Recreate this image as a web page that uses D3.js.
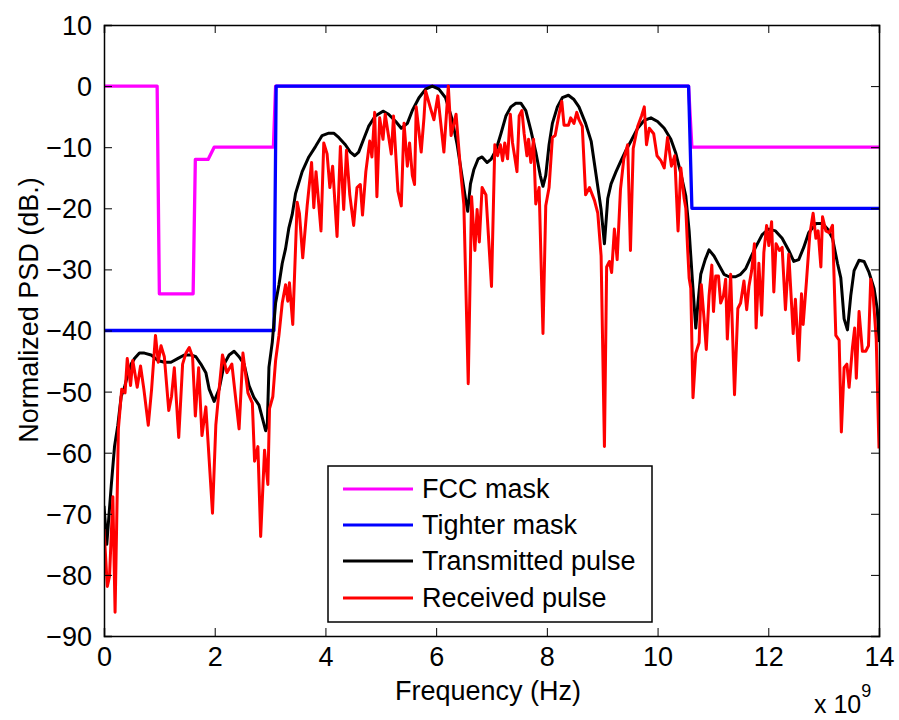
<!DOCTYPE html>
<html><head><meta charset="utf-8">
<script src="https://cdn.jsdelivr.net/npm/d3@7/dist/d3.min.js"></script>
<style>body{margin:0;background:#fff;} svg{display:block;} text{font-family:"Liberation Sans",Arial,Helvetica,sans-serif;fill:#000;}</style>
</head><body>
<svg id="chart" width="899" height="720"></svg>
<script>
// ---- data (frequency in units of 1e9 Hz, PSD in dB) ----
const xTicks = [0, 2, 4, 6, 8, 10, 12, 14];
const yTicks = [10, 0, -10, -20, -30, -40, -50, -60, -70, -80, -90];
const seriesNames = ["FCC mask", "Tighter mask", "Transmitted pulse", "Received pulse"];
const seriesColors = ["#ff00ff", "#0000ff", "#000000", "#ff0000"];

const fccMask = [[0,0],[0.96,0],[1.0,-34],[1.61,-34],[1.65,-12],[1.88,-12],[1.99,-10],[3.06,-10],[3.1,0],[10.56,0],[10.62,-10],[14,-10]];
const tighterMask = [[0,-40],[3.07,-40],[3.11,0],[10.56,0],[10.62,-20],[14,-20]];

const transmitted = [[0,-68.7],[0.05,-75],[0.13,-65.5],[0.19,-59],[0.25,-55.5],[0.31,-50.8],[0.37,-49.3],[0.43,-47.2],[0.49,-45.5],[0.55,-44.6],[0.64,-43.7],[0.73,-43.7],[0.85,-44],[0.97,-44.9],[1.09,-45.2],[1.21,-45.2],[1.33,-44.6],[1.45,-44],[1.57,-44],[1.66,-44.3],[1.75,-45.5],[1.84,-46.9],[1.90,-49.6],[1.99,-51.6],[2.08,-49.6],[2.17,-45.5],[2.26,-44],[2.35,-43.4],[2.44,-44.3],[2.53,-45.5],[2.62,-49],[2.71,-51],[2.80,-52.2],[2.86,-54.3],[2.92,-56.4],[2.95,-55.5],[2.98,-46],[3.04,-41.9],[3.10,-35.5],[3.16,-32.5],[3.22,-29],[3.28,-26.6],[3.34,-23.2],[3.40,-21],[3.46,-17.6],[3.58,-14],[3.70,-11.6],[3.82,-9.9],[3.94,-8.1],[4.06,-7.7],[4.15,-7.7],[4.24,-8.4],[4.36,-9.6],[4.45,-10.8],[4.53,-11.4],[4.60,-10.8],[4.69,-8.7],[4.78,-6.6],[4.90,-4.9],[5.04,-4.1],[5.14,-4.6],[5.27,-5.8],[5.37,-6.9],[5.48,-6.1],[5.57,-4],[5.69,-1.9],[5.81,-0.5],[5.93,0],[6.05,-0.5],[6.17,-1.9],[6.29,-5.5],[6.38,-9.6],[6.47,-14.9],[6.53,-18.4],[6.57,-20.5],[6.62,-16],[6.68,-13.7],[6.76,-11.9],[6.83,-11.6],[6.92,-12.5],[6.99,-12],[7.08,-10.5],[7.17,-7.8],[7.26,-4.9],[7.35,-3.4],[7.44,-2.8],[7.53,-2.8],[7.62,-4],[7.71,-7.2],[7.80,-10.8],[7.88,-14.6],[7.93,-16.4],[7.98,-14.6],[8.04,-9.6],[8.10,-6.1],[8.19,-3.4],[8.28,-1.9],[8.39,-1.5],[8.49,-2.2],[8.58,-3.4],[8.70,-6.1],[8.80,-9],[8.89,-14.6],[8.98,-20.2],[9.04,-25.8],[9.10,-18.4],[9.16,-16],[9.25,-14],[9.34,-12.2],[9.43,-10.5],[9.52,-9],[9.64,-6.9],[9.76,-5.6],[9.88,-5.2],[10.0,-5.8],[10.12,-6.9],[10.24,-8.7],[10.33,-11],[10.42,-14.3],[10.51,-18],[10.57,-23.7],[10.63,-31.9],[10.69,-39.6],[10.73,-35.5],[10.78,-30.8],[10.86,-28.4],[10.93,-26.8],[11.02,-27.8],[11.11,-29.3],[11.20,-30.8],[11.29,-31.2],[11.41,-31.2],[11.50,-30.8],[11.59,-29.9],[11.68,-28.1],[11.77,-26.4],[11.89,-24.3],[12.01,-23.4],[12.13,-23.7],[12.25,-24.9],[12.37,-26.9],[12.46,-28.7],[12.55,-28.4],[12.64,-26.4],[12.73,-24],[12.86,-22.5],[12.98,-22.5],[13.07,-23.4],[13.16,-24.9],[13.25,-29],[13.31,-31.4],[13.37,-38.1],[13.43,-39.9],[13.49,-34.3],[13.55,-30.2],[13.64,-28.5],[13.73,-28.7],[13.82,-30.5],[13.91,-33.1],[13.97,-36.6],[14.0,-41.9]];

const received = [[0,-72.5],[0.06,-81.9],[0.10,-80.2],[0.16,-67.2],[0.20,-86.1],[0.26,-56.1],[0.32,-49.6],[0.38,-50.2],[0.42,-44.6],[0.48,-49],[0.52,-44.9],[0.60,-49.3],[0.66,-45.8],[0.72,-49.6],[0.80,-55.5],[0.86,-49.6],[0.93,-40.8],[0.98,-45.2],[1.03,-42.5],[1.09,-44.3],[1.17,-53.1],[1.22,-50.8],[1.27,-46.1],[1.35,-57.5],[1.42,-45.5],[1.48,-43.7],[1.54,-42.8],[1.60,-44.3],[1.65,-54],[1.71,-46.1],[1.77,-57.2],[1.84,-52.5],[1.96,-69.9],[2.02,-55.5],[2.08,-49.6],[2.14,-44],[2.22,-46.9],[2.31,-45.5],[2.36,-49.6],[2.44,-56.1],[2.51,-43.7],[2.60,-50.2],[2.68,-51.9],[2.72,-61.4],[2.78,-59],[2.83,-73.7],[2.90,-59.6],[2.96,-65.2],[2.99,-52.8],[3.05,-50.8],[3.10,-44.9],[3.16,-40.8],[3.22,-35.5],[3.28,-32.5],[3.32,-35.2],[3.35,-32.2],[3.41,-39],[3.49,-19],[3.53,-20.8],[3.59,-28.1],[3.67,-19.6],[3.75,-12.5],[3.79,-19.9],[3.83,-14],[3.92,-23.7],[3.97,-9.3],[4.03,-11.1],[4.08,-16.6],[4.13,-13.1],[4.21,-24.6],[4.27,-9.9],[4.33,-20.2],[4.38,-10.5],[4.44,-17.8],[4.51,-22.8],[4.57,-16.6],[4.63,-16.1],[4.67,-21.1],[4.73,-14],[4.80,-9],[4.84,-11.6],[4.89,-4.3],[4.93,-18.1],[4.98,-5.2],[5.04,-8.7],[5.08,-4.6],[5.19,-11.1],[5.23,-4.9],[5.31,-17.2],[5.37,-19.6],[5.42,-6.1],[5.48,-13.1],[5.52,-9.3],[5.57,-14.6],[5.61,-16.1],[5.64,-3.4],[5.73,-10.8],[5.78,-5.2],[5.81,-0.8],[5.90,-3.7],[5.96,-5.5],[6.03,-1.6],[6.14,-10.8],[6.22,0],[6.27,-8.1],[6.36,-4.6],[6.44,-13.7],[6.50,-19.3],[6.58,-48.7],[6.64,-18.1],[6.70,-26.9],[6.74,-20.2],[6.78,-25.5],[6.83,-16.6],[6.90,-17.8],[7.00,-32.8],[7.06,-9.6],[7.11,-11.4],[7.16,-9.6],[7.20,-12.2],[7.24,-9.3],[7.29,-11.9],[7.34,-4.6],[7.38,-9.3],[7.42,-11.6],[7.46,-14],[7.50,-4.9],[7.55,-4],[7.59,-7.8],[7.64,-11.4],[7.67,-8.7],[7.71,-12.5],[7.76,-8.7],[7.80,-19.3],[7.86,-16.6],[7.93,-40.5],[7.98,-19.6],[8.04,-16.6],[8.10,-8.4],[8.15,-8.1],[8.22,-4.6],[8.27,-2.5],[8.31,-6.4],[8.39,-6.4],[8.43,-5.2],[8.49,-6.1],[8.54,-4.3],[8.58,-5.5],[8.64,-6.6],[8.70,-17.8],[8.77,-16.6],[8.86,-18.7],[8.92,-20.8],[8.98,-27.8],[9.04,-59],[9.08,-29.6],[9.13,-28.7],[9.17,-30.5],[9.22,-23.4],[9.27,-28.4],[9.33,-16.9],[9.39,-11.9],[9.46,-9.6],[9.51,-26.9],[9.56,-10.2],[9.64,-6.6],[9.71,-4.9],[9.76,-3.4],[9.80,-9.6],[9.85,-6.9],[9.93,-7.8],[9.99,-11.4],[10.06,-12.2],[10.12,-13.4],[10.18,-8.4],[10.25,-13.1],[10.31,-11.4],[10.37,-23.7],[10.42,-13.4],[10.48,-18.4],[10.51,-20],[10.54,-26.1],[10.57,-31.4],[10.60,-33.1],[10.64,-51],[10.69,-43.7],[10.75,-42],[10.79,-32.5],[10.84,-38.1],[10.88,-43.1],[10.93,-34.3],[10.98,-29.3],[11.01,-36.9],[11.05,-31.1],[11.10,-31.1],[11.14,-35.5],[11.19,-34.3],[11.23,-31.6],[11.26,-41.4],[11.32,-30.8],[11.39,-50.5],[11.45,-36.4],[11.50,-35.5],[11.56,-31.9],[11.61,-36.6],[11.65,-32.8],[11.70,-30.2],[11.75,-25.8],[11.78,-39.6],[11.83,-29],[11.88,-37.5],[11.92,-27.2],[11.97,-22.8],[12.01,-26.1],[12.06,-22.2],[12.10,-33.7],[12.14,-25.8],[12.20,-26.9],[12.25,-26.4],[12.31,-36.6],[12.37,-27.5],[12.45,-40.5],[12.49,-34.9],[12.55,-44.9],[12.60,-34],[12.63,-39],[12.69,-31.9],[12.75,-24.3],[12.81,-20.8],[12.86,-24.9],[12.90,-23.7],[12.95,-29.6],[12.98,-21.4],[13.04,-23.7],[13.10,-24],[13.16,-22.8],[13.22,-40.8],[13.28,-41.6],[13.32,-56.6],[13.37,-46.1],[13.42,-45.5],[13.46,-49.3],[13.52,-42.8],[13.56,-39.6],[13.59,-47.8],[13.64,-36.9],[13.70,-43.4],[13.76,-43.4],[13.81,-42.5],[13.85,-31.6],[13.89,-33.7],[13.95,-41.4],[14.0,-59.3]];

// ---- layout ----
const svg = d3.select("#chart");
const L = 104, R = 879, T = 25, B = 636;
const x = d3.scaleLinear().domain([0, 14]).range([L, R]);
const y = d3.scaleLinear().domain([-90, 10]).range([B, T]);

const g = svg.append("g");
svg.append("defs").append("clipPath").attr("id","clip")
  .append("rect").attr("x",L).attr("y",T).attr("width",R-L).attr("height",B-T);

const line = d3.line().x(d => x(d[0])).y(d => y(d[1]));
const plot = g.append("g").attr("clip-path","url(#clip)");
[fccMask, tighterMask, transmitted, received].forEach((data, i) => {
  plot.append("path").datum(data).attr("d", line)
    .attr("fill","none").attr("stroke", seriesColors[i])
    .attr("stroke-width", i < 2 ? 3.3 : 3).attr("stroke-linejoin","round");
});

// axes (ticks inward, MATLAB style)
const tl = 8;
const fs = 27;
const axB = g.append("g").attr("transform",`translate(0,${B})`)
  .call(d3.axisBottom(x).tickValues(xTicks).tickSize(-tl).tickPadding(10).tickFormat(d3.format("d")));
const axT = g.append("g").attr("transform",`translate(0,${T})`)
  .call(d3.axisTop(x).tickValues(xTicks).tickSize(-tl).tickFormat(""));
const axL = g.append("g").attr("transform",`translate(${L},0)`)
  .call(d3.axisLeft(y).tickValues(yTicks).tickSize(-tl).tickPadding(12).tickFormat(d3.format("d")));
const axR = g.append("g").attr("transform",`translate(${R},0)`)
  .call(d3.axisRight(y).tickValues(yTicks).tickSize(-tl).tickFormat(""));
[axB, axT, axL, axR].forEach(a => {
  a.select(".domain").attr("stroke","#000").attr("stroke-width",1.5);
  a.selectAll(".tick line").attr("stroke","#000").attr("stroke-width",1);
  a.selectAll("text").attr("font-size", fs).attr("font-family","Liberation Sans, Arial, sans-serif").attr("fill","#000");
});
axB.selectAll(".tick line").filter(d => d===0 || d===14).remove();
axT.selectAll(".tick line").filter(d => d===0 || d===14).remove();
axL.selectAll(".tick line").filter(d => d===10 || d===-90).remove();
axR.selectAll(".tick line").filter(d => d===10 || d===-90).remove();
axL.selectAll("text").attr("dy","0.35em");
axB.selectAll("text").attr("dy","0.75em");

// axis titles
g.append("text").attr("x", 488).attr("y", 700).attr("text-anchor","middle")
  .attr("font-size", 27).text("Frequency (Hz)");
g.append("text").attr("transform","translate(38,310) rotate(-90)").attr("text-anchor","middle")
  .attr("font-size", 27).text("Normalized PSD (dB.)");
const ex = g.append("text").attr("x", 814).attr("y", 713).attr("font-size", 25);
ex.append("tspan").text("x 10");
ex.append("tspan").attr("dy", -16).attr("font-size", 18).text("9");

// legend
const lg = g.append("g");
lg.append("rect").attr("x",328).attr("y",466).attr("width",324).attr("height",156)
  .attr("fill","#fff").attr("stroke","#000").attr("stroke-width",1.5);
const rowsY = [489, 525, 561, 598];
seriesNames.forEach((name, i) => {
  lg.append("line").attr("x1",343).attr("x2",413).attr("y1",rowsY[i]).attr("y2",rowsY[i])
    .attr("stroke", seriesColors[i]).attr("stroke-width",3);
  lg.append("text").attr("x",422).attr("y",rowsY[i]).attr("dy","0.35em")
    .attr("font-size",27).text(name);
});
</script>
</body></html>
